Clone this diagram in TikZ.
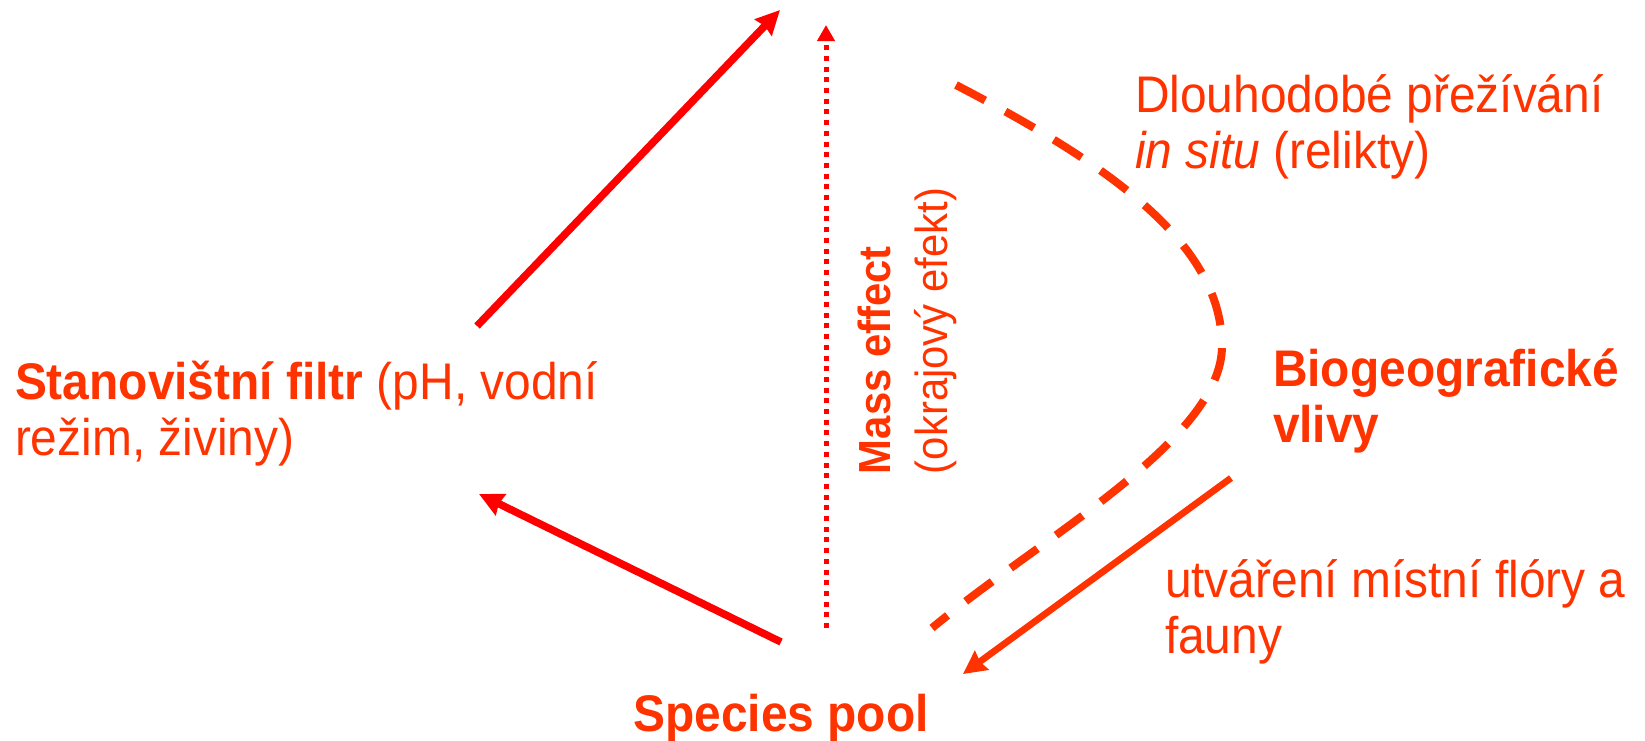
\documentclass[tikz,border=0pt]{standalone}
\usepackage{fontspec}
\setmainfont{Liberation Sans}[FakeStretch=0.93]
\usetikzlibrary{arrows.meta}
\definecolor{pred}{HTML}{FF0000}
\definecolor{porange}{HTML}{FF3300}
\begin{document}
\begin{tikzpicture}[x=1pt,y=-1pt,
  lbl/.style={inner sep=0pt, outer sep=0pt, text=porange, align=left, anchor=base west,
    font=\fontsize{51.5}{56}\selectfont},
  rotlbl/.style={inner sep=0pt, outer sep=0pt, text=porange, align=left, anchor=base west,
    rotate=90, font=\fontsize{45}{57}\selectfont},
  solidarrow/.style={draw=pred, line width=7.5pt, -{Stealth[length=24pt,width=23pt,inset=2pt]}},
  orangearrow/.style={draw=porange, line width=6.7pt, -{Stealth[length=23pt,width=23pt,inset=2pt]}},
  dotarrow/.style={draw=pred, line width=5pt, dash pattern=on 5pt off 5.7pt,
    -{Triangle[length=16pt,width=17pt]}},
  dashcurve/.style={draw=porange, line width=8pt, dash pattern=on 33pt off 23pt}
]
\useasboundingbox (0,0) rectangle (1645,740);

% labels (anchor = baseline of the last line)
\node[lbl] (filtr) at (15,455) {\textbf{Stanovištní filtr} (pH, vodní\\režim, živiny)};
\node[lbl, anchor=base] (pool) at (781,731) {\textbf{Species pool}};
\node[lbl] (bio) at (1273,442) {\textbf{Biogeografické}\\\textbf{vlivy}};
\node[lbl] (relikt) at (1135,168) {Dlouhodobé přežívání\\\textit{in situ} (relikty)};
\node[lbl] (utvar) at (1165,653) {utváření místní flóry a\\fauny};
\node[rotlbl] (mass) at (947,474) {\textbf{Mass effect}\\(okrajový efekt)};

% connector end points
\coordinate (a1s) at (477,326);
\coordinate (a1e) at (780,10);
\coordinate (a2s) at (781,642);
\coordinate (a2e) at (479,494);
\coordinate (a3s) at (826,628);
\coordinate (a3e) at (826,25);
\coordinate (a4s) at (1231,478);
\coordinate (a4e) at (963,674);
\coordinate (c1) at (956,85);
\coordinate (c2) at (1222,346);
\coordinate (c3) at (932,628);

% connectors
\draw[solidarrow] (a1s) -- (a1e);
\draw[solidarrow] (a2s) -- (a2e);
\draw[dotarrow] (a3s) -- (a3e);
\draw[orangearrow] (a4s) -- (a4e);
\draw[dashcurve] (c1) .. controls (1100,160) and (1222,240) .. (c2)
  .. controls (1222,440) and (1040,538) .. (c3);
\end{tikzpicture}
\end{document}
